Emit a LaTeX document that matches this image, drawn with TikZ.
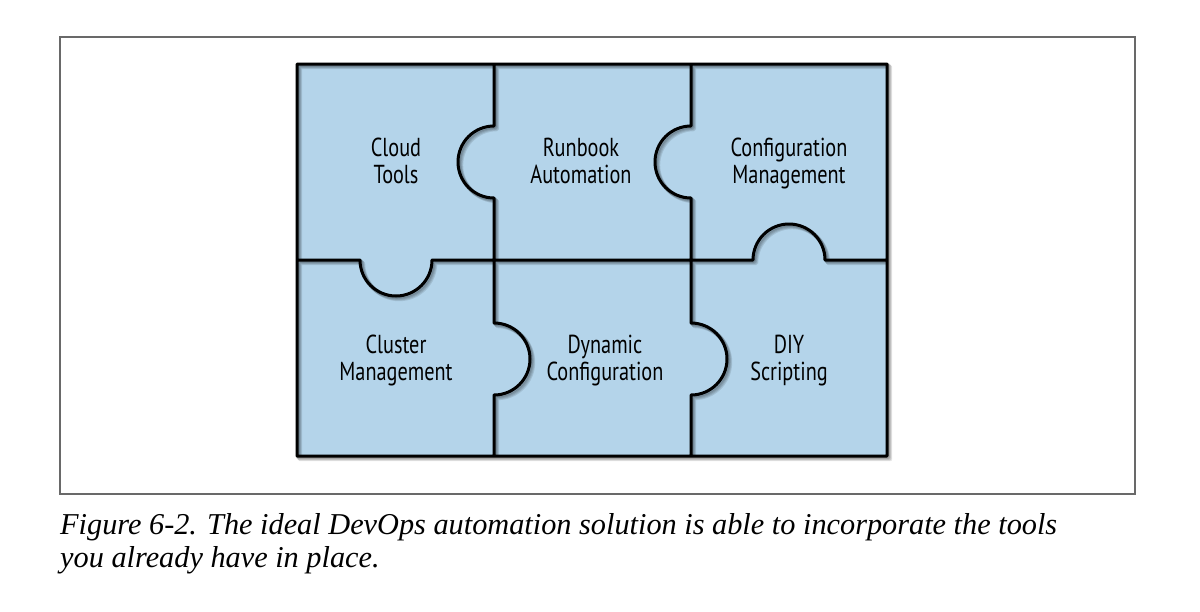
\documentclass[tikz,border=0pt]{standalone}
\usepackage{fontspec}
\newfontfamily\piecefont[FakeStretch=0.78]{PT Sans}
\newfontfamily\captionfont{Liberation Serif}
\definecolor{puzzleblue}{RGB}{180,212,234}
\definecolor{framegray}{RGB}{105,105,105}
% seams of the six pieces, in pixel units (y grows downwards)
\newcommand{\seams}{(297,64) rectangle (887,456)
  (494,64) -- (494,126) arc[start angle=270,end angle=90,radius=36] -- (494,323) arc[start angle=-90,end angle=90,radius=36] -- (494,456)
  (691,64) -- (691,126) arc[start angle=270,end angle=90,radius=36] -- (691,323) arc[start angle=-90,end angle=90,radius=36] -- (691,456)
  (297,260) -- (360,260) arc[start angle=180,end angle=0,radius=36] -- (753,260) arc[start angle=180,end angle=360,radius=36] -- (887,260)}

\begin{document}
\begin{tikzpicture}[x=1pt,y=-1pt,
  tilelabel/.style={font=\piecefont\fontsize{26}{27}\selectfont,align=center,inner sep=0pt},
  captionline/.style={font=\captionfont\itshape\fontsize{30.3}{33}\selectfont,anchor=base west,inner sep=0pt},
  seamshadow/.style={black,opacity=0.1,line width=4pt,line join=round},
  seamline/.style={black,line width=3pt,line join=round}]
\useasboundingbox (0,0) rectangle (1200,611);
\fill[white] (0,0) rectangle (1200,611);
\draw[framegray,line width=1.6pt] (60,37) rectangle (1135,494);
\fill[puzzleblue] (297,64) rectangle (887,456);
\foreach \s in {1,2,3,4}{
	\draw[seamshadow,xshift=\s*0.8pt,yshift=-\s*0.8pt] \seams;
	}
\draw[seamline] \seams;
\node[tilelabel] (cloud) at (396,165) {Cloud\strut\\Tools\strut};
\node[tilelabel] (runbook) at (581,165) {Runbook\strut\\Automation\strut};
\node[tilelabel] (config) at (789,165) {Configuration\strut\\Management\strut};
\node[tilelabel] (cluster) at (396,362) {Cluster\strut\\Management\strut};
\node[tilelabel] (dynamic) at (605,362) {Dynamic\strut\\Configuration\strut};
\node[tilelabel] (diy) at (789,362) {DIY\strut\\Scripting\strut};
\node[captionline] (cap1) at (60,534) {Figure 6-2. The ideal DevOps automation solution is able to incorporate the tools};
\node[captionline] (cap2) at (60,567) {you already have in place.};
\end{tikzpicture}
\end{document}
